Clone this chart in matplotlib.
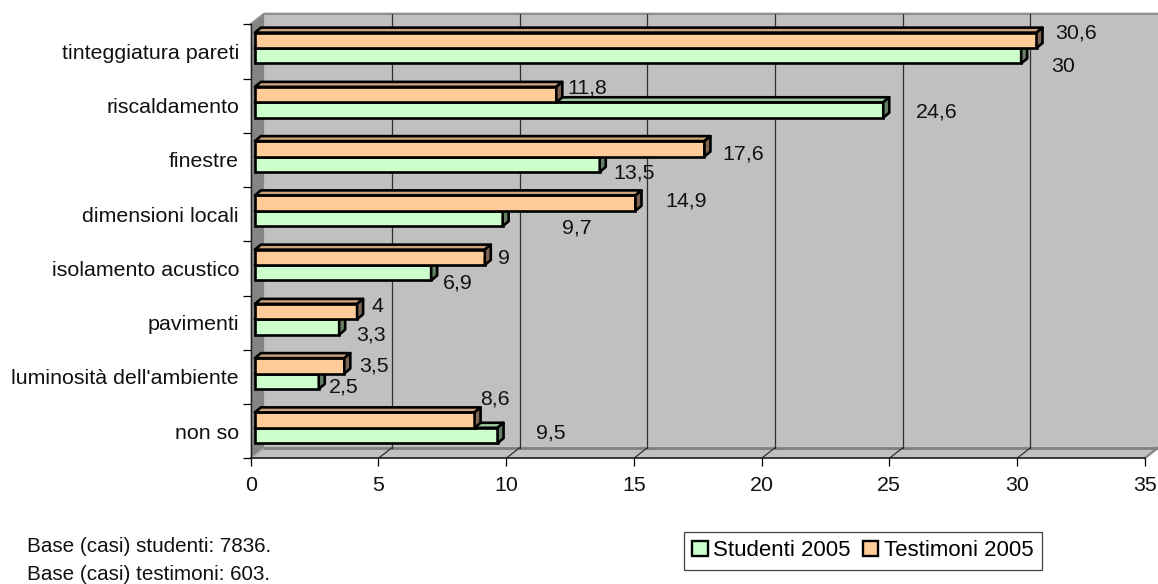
import matplotlib
matplotlib.use('Agg')
import matplotlib.pyplot as plt
from matplotlib.patches import Patch, Polygon

plt.rcParams['font.family'] = ['Liberation Sans', 'DejaVu Sans']

categories = ['tinteggiatura pareti', 'riscaldamento', 'finestre', 'dimensioni locali',
              'isolamento acustico', 'pavimenti', "luminosità dell'ambiente", 'non so']
studenti = [30, 24.6, 13.5, 9.7, 6.9, 3.3, 2.5, 9.5]
testimoni = [30.6, 11.8, 17.6, 14.9, 9, 4, 3.5, 8.6]
x_ticks = [0, 5, 10, 15, 20, 25, 30, 35]
base_notes = ['Base (casi) studenti: 7836.', 'Base (casi) testimoni: 603.']

# data labels were placed by hand in the original, offsets in pixels from the bar end
studenti_label_off = [(36, 11), (47, 2), (28, 9), (68, 10), (21, 10), (26, 8), (19, 6), (47, -2)]
testimoni_label_off = [(34, -7), (25, -7), (33, 5), (45, -2), (13, 1), (14, -5), (24, 0), (14, -21)]

W, H = 1158, 584
LEFT, RIGHT, TOP, BOTTOM = 250.7, 1144.7, 24.3, 458.3
FS = 15.4

fig = plt.figure(figsize=(W / 100, H / 100), dpi=100)
ax = fig.add_axes([LEFT / W, 1 - BOTTOM / H, (RIGHT - LEFT) / W, (BOTTOM - TOP) / H])
ax.set_xlim(0, 35)
ax.set_ylim(8, 0)
ax.patch.set_alpha(0)

ux = (RIGHT - LEFT) / 35
uy = (BOTTOM - TOP) / 8
# 3d depth of the box and of the bars
dx, dy = 13.4 / ux, 10.5 / uy
bx, by = 4.2 / ux, 3.4 / uy
bdx, bdy = 6 / ux, 5 / uy
bar_h = 15.4 / uy

GREEN, ORANGE = '#CCFFCC', '#FFCC99'
GREEN_TOP, ORANGE_TOP = '#A3CCA3', '#CCA37A'
GREEN_SIDE, ORANGE_SIDE = '#668066', '#806650'

# walls
ax.add_patch(Polygon([(dx, -dy), (35 + dx, -dy), (35 + dx, 8 - dy), (dx, 8 - dy)], fc='#C0C0C0',
                     ec='none', clip_on=False, zorder=1))
ax.add_patch(Polygon([(0, 0), (dx, -dy), (dx, 8 - dy), (0, 8)], fc='#858585', ec='none', clip_on=False, zorder=1))
ax.add_patch(Polygon([(0, 8), (dx, 8 - dy), (35 + dx, 8 - dy), (35, 8)], fc='#C0C0C0', ec='none',
                     clip_on=False, zorder=1))
ax.plot([0, dx, 35 + dx], [0, -dy, -dy], color='#8C8C8C', lw=1.6, clip_on=False, zorder=1.2)
ax.plot([dx, 35 + dx], [8 - dy, 8 - dy], color='#808080', lw=2, clip_on=False, zorder=1.2)
ax.plot([35, 35 + dx], [8, 8 - dy], color='#808080', lw=1.5, clip_on=False, zorder=1.2)
ax.plot([0, dx], [8, 8 - dy], color='#A0A0A0', lw=1, clip_on=False, zorder=1.2)

# grid on back wall and floor
for t in x_ticks[1:-1]:
    ax.plot([t + dx, t + dx], [-dy, 8 - dy], color='#303030', lw=0.9, clip_on=False, zorder=1.3)
    ax.plot([t, t + dx], [8, 8 - dy], color='#303030', lw=0.9, clip_on=False, zorder=1.3)


def draw_bars(values, pos, face, top, side):
    ax.barh(pos, values, height=bar_h, left=bx, color=face, edgecolor='black', linewidth=1.9,
            clip_on=False, zorder=3)
    for v, p in zip(values, pos):
        t, b = p - bar_h / 2, p + bar_h / 2
        end = v + bx
        ax.add_patch(Polygon([(bx, t), (bx + bdx, t - bdy), (end + bdx, t - bdy), (end, t)],
                             fc=top, ec='black', lw=1.9, joinstyle='round', clip_on=False, zorder=3))
        ax.add_patch(Polygon([(end, t), (end + bdx, t - bdy), (end + bdx, b - bdy), (end, b)],
                             fc=side, ec='black', lw=1.9, joinstyle='round', clip_on=False, zorder=3))


centers = [i + 0.5 - by for i in range(len(categories))]
draw_bars(studenti, [c + bar_h / 2 for c in centers], GREEN, GREEN_TOP, GREEN_SIDE)
draw_bars(testimoni, [c - bar_h / 2 for c in centers], ORANGE, ORANGE_TOP, ORANGE_SIDE)

# data labels
for i, c in enumerate(centers):
    for val, off, sign in ((studenti[i], studenti_label_off[i], 1), (testimoni[i], testimoni_label_off[i], -1)):
        ax.annotate(f'{val:g}'.replace('.', ','), (val + bx + bdx, c + sign * bar_h / 2),
                    xytext=(off[0] * 0.72, -off[1] * 0.72), textcoords='offset points',
                    ha='center', va='center', fontsize=FS, color='#111111', annotation_clip=False, zorder=5)

# axes
for s in ('top', 'right'):
    ax.spines[s].set_visible(False)
ax.spines['left'].set_color('#202020')
ax.spines['bottom'].set_color('#202020')
ax.spines['left'].set_linewidth(1)
ax.spines['bottom'].set_linewidth(1.2)
ax.set_xticks(x_ticks)
ax.set_yticks(range(9))
ax.set_yticklabels([])
ax.set_yticks([i + 0.5 for i in range(8)], labels=categories, minor=True)
ax.tick_params(axis='y', which='minor', length=0, pad=8.4, labelsize=FS, labelcolor='#111111')
ax.tick_params(axis='y', which='major', length=6, width=0.9)
ax.tick_params(axis='x', length=6, width=0.9, pad=6.5, labelsize=FS, labelcolor='#111111')

# notes
for note, y in zip(base_notes, (546, 574)):
    fig.text(27 / W, 1 - y / H, note, fontsize=14.9, va='center', ha='left', color='#111111')

# legend
leg = fig.legend(handles=[Patch(fc=GREEN, ec='black', lw=1.7, label='Studenti 2005'),
                          Patch(fc=ORANGE, ec='black', lw=1.7, label='Testimoni 2005')],
                 loc='center', bbox_to_anchor=(862.8 / W, 1 - 551 / H), ncol=2, fontsize=16,
                 fancybox=False, framealpha=1, edgecolor='#404040', handlelength=0.68, handleheight=0.68,
                 handletextpad=0.25, columnspacing=0.55, borderpad=0.4, borderaxespad=0)
leg.get_frame().set_linewidth(0.9)

fig.savefig('out.png', dpi=100)
